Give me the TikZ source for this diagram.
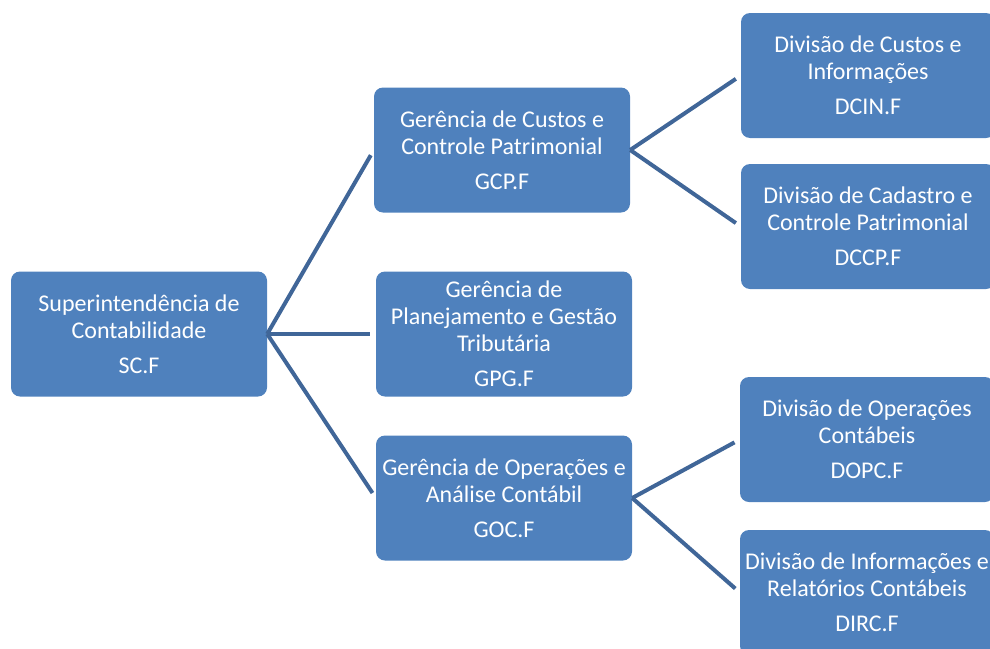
\documentclass[tikz,border=0pt]{standalone}
\usepackage{fontspec}
\setmainfont{Carlito}
\usepackage{tikz}
\usetikzlibrary{positioning}
\definecolor{unitblue}{RGB}{79,129,189}
\definecolor{linkblue}{RGB}{64,102,152}

\begin{document}
\begin{tikzpicture}[x=1pt, y=1pt,
  unit/.style={fill=unitblue, rounded corners=9pt, minimum width=256pt, minimum height=125pt,
    text=white, align=center, inner sep=1pt, font=\fontsize{24}{27}\selectfont},
  link/.style={draw=linkblue, line width=4pt, shorten >=6pt}]
\useasboundingbox (0,0) rectangle (990,-648);
\clip (0,0) rectangle (990,-648);
% superintendencia
\node[unit] (SC) at (139,-334) {Superintendência de\\Contabilidade\\[8pt]SC.F};
% gerencias
\node[unit] (GCP) at (502,-150) {Gerência de Custos e\\Controle Patrimonial\\[8pt]GCP.F};
\node[unit] (GPG) at (504,-334) {Gerência de\\Planejamento e Gestão\\Tributária\\[8pt]GPG.F};
\node[unit] (GOC) at (504,-498) {Gerência de Operações e\\Análise Contábil\\[8pt]GOC.F};
% divisoes
\node[unit, minimum width=254pt] (DCIN) at (868,-75.5) {Divisão de Custos e\\Informações\\[8pt]DCIN.F};
\node[unit, minimum width=254pt] (DCCP) at (868,-226.5) {Divisão de Cadastro e\\Controle Patrimonial\\[8pt]DCCP.F};
\node[unit, minimum width=254pt] (DOPC) at (867,-439.5) {Divisão de Operações\\Contábeis\\[8pt]DOPC.F};
\node[unit, minimum width=254pt] (DIRC) at (867,-592.5) {Divisão de Informações e\\Relatórios Contábeis\\[8pt]DIRC.F};
\draw[link] (SC.east) -- (GCP.west);
\draw[link] (SC.east) -- (GPG.west);
\draw[link] (SC.east) -- (GOC.west);
\draw[link] (GCP.east) -- (DCIN.west);
\draw[link] (GCP.east) -- (DCCP.west);
\draw[link] (GOC.east) -- (DOPC.west);
\draw[link] (GOC.east) -- (DIRC.west);
\end{tikzpicture}
\end{document}
